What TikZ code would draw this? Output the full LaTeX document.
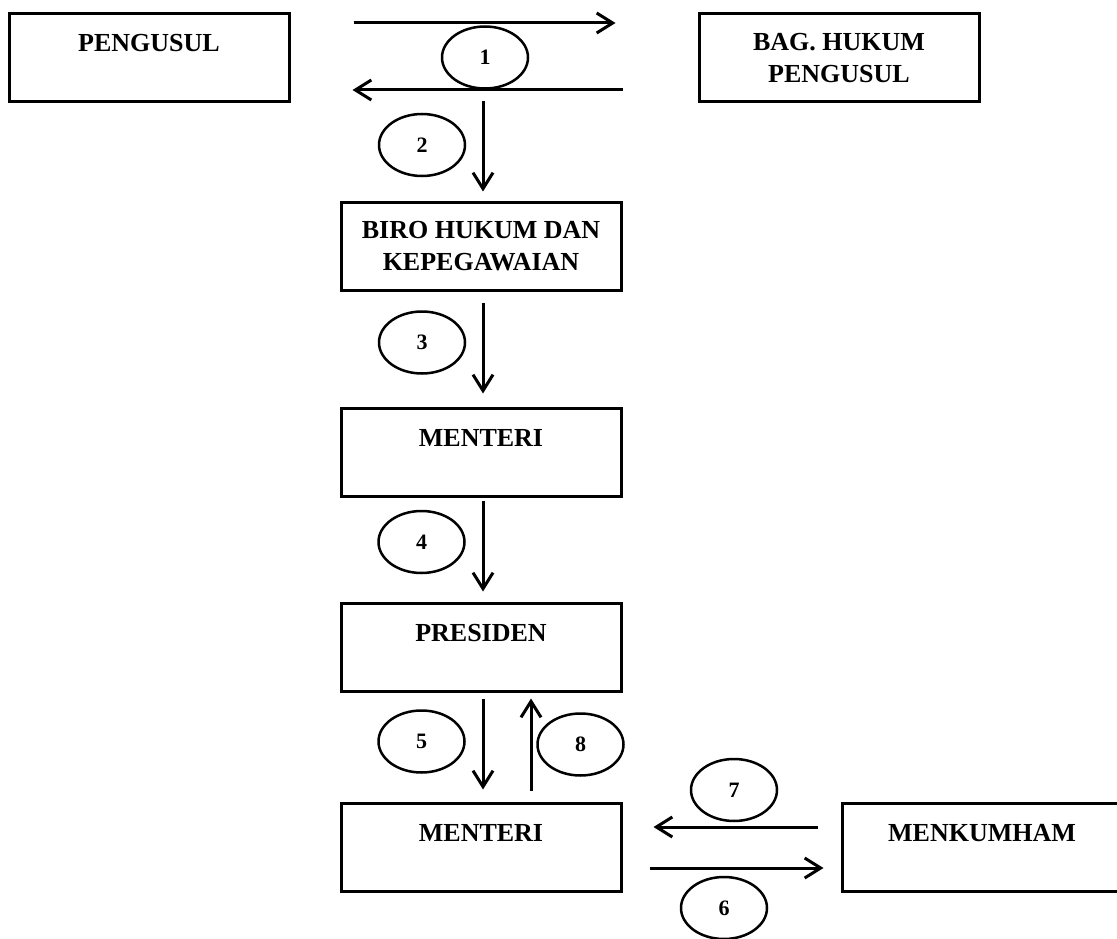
\documentclass[tikz,border=0pt]{standalone}
\usepackage{fontspec}
\setmainfont{Liberation Serif}
\usetikzlibrary{arrows.meta,shapes.geometric}
\begin{document}
\begin{tikzpicture}[x=1pt,y=-1pt,
  box/.style={draw, line width=3pt, inner sep=0pt, minimum width=280pt, minimum height=88pt,
    font=\fontsize{26}{32}\selectfont\bfseries},
  topbox/.style={box, text height=38pt, text depth=50pt},
  twobox/.style={box, align=center},
  num/.style={draw, ellipse, line width=2.5pt, inner sep=0pt, minimum width=86pt, minimum height=62pt,
    font=\fontsize{22}{26}\selectfont\bfseries},
  conn/.style={line width=3pt, -{Straight Barb[length=16pt,width=20pt]}}
]
\fill[white] (0,0) rectangle (1117,939);
\useasboundingbox (0,0) rectangle (1117,939);
\begin{scope}
\clip (0,0) rectangle (1117,939);
% boxes
\node[topbox] (pengusul) at (149,58) {PENGUSUL};
\node[twobox] (bag) at (839,58) {BAG. HUKUM\\PENGUSUL};
\node[twobox] (biro) at (481,246.5) {BIRO HUKUM DAN\\KEPEGAWAIAN};
\node[topbox] (menteri1) at (481,452) {MENTERI};
\node[topbox] (presiden) at (481,647.5) {PRESIDEN};
\node[topbox] (menteri2) at (481,847) {MENTERI};
\node[topbox] (menkumham) at (982,847) {MENKUMHAM};
% number ellipses
\node[num] (e1) at (485,57.5) {1};
\node[num] (e2) at (422,145) {2};
\node[num] (e3) at (422,342.5) {3};
\node[num] (e4) at (421.5,542) {4};
\node[num] (e5) at (421.5,741.5) {5};
\node[num] (e8) at (580.5,744.5) {8};
\node[num] (e7) at (734,790) {7};
\node[num] (e6) at (724,908) {6};
% connectors
\coordinate (c2) at (483,101);
\draw[conn, shorten <=63pt, shorten >=82pt] ([yshift=35pt]pengusul.east) -- ([yshift=35pt]bag.west);
\draw[conn, shorten <=75pt, shorten >=62pt] ([yshift=-32pt]bag.west) -- ([yshift=-32pt]pengusul.east);
\draw[conn, shorten >=9.5pt] (c2) -- (c2 |- biro.north);
\draw[conn, shorten <=10.5pt, shorten >=13pt] ([xshift=2pt]biro.south) -- ([xshift=2pt]menteri1.north);
\draw[conn, shorten <=3pt, shorten >=10.5pt] ([xshift=2pt]menteri1.south) -- ([xshift=2pt]presiden.north);
\draw[conn, shorten <=5.5pt, shorten >=12pt] ([xshift=2pt]presiden.south) -- ([xshift=2pt]menteri2.north);
\draw[conn, shorten <=11pt, shorten >=5.5pt] ([xshift=50pt]menteri2.north) -- ([xshift=50pt]presiden.south);
\draw[conn, shorten <=23pt, shorten >=31pt] ([yshift=20pt]menkumham.west) -- ([yshift=20pt]menteri2.east);
\draw[conn, shorten <=27pt, shorten >=17pt] ([yshift=-21pt]menteri2.east) -- ([yshift=-21pt]menkumham.west);
\end{scope}
\end{tikzpicture}
\end{document}
